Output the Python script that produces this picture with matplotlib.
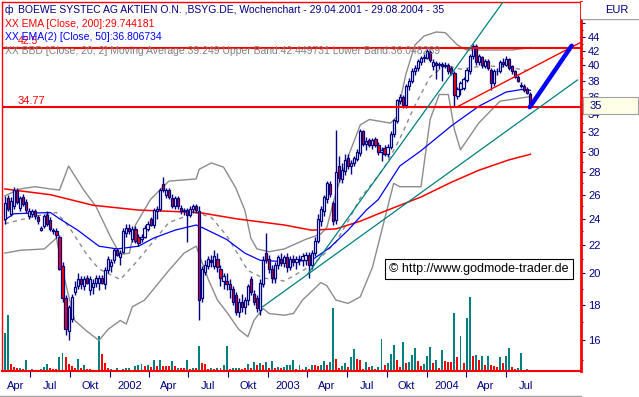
import numpy as np
import pandas as pd
import matplotlib
matplotlib.use("Agg")
import matplotlib.pyplot as plt
import matplotlib.dates as mdates
from matplotlib.patches import Rectangle
from matplotlib.lines import Line2D

plt.rcParams['font.family'] = ['Liberation Sans', 'DejaVu Sans']

# weekly candles, first week ending 04.05.2001
start = pd.Timestamp('2001-05-04')

opens = [24.0, 25.7, 24.4, 25.0, 26.3, 24.9, 25.8, 25.4, 24.2, 24.4,
         24.6, 24.1, 23.1, 23.4, 24.3, 23.9, 23.1, 23.0, 22.6, 20.5,
         18.4, 16.5, 17.2, 18.8, 19.2, 19.6, 19.2, 19.7, 18.9, 19.1,
         19.4, 19.4, 19.7, 19.3, 20.2, 20.5, 20.9, 21.6, 21.1, 21.5,
         22.9, 23.3, 22.4, 23.2, 22.6, 22.4, 22.6, 23.2, 24.0, 23.5,
         24.6, 24.8, 26.9, 26.0, 26.4, 25.7, 25.0, 25.7, 24.9, 24.6,
         24.7, 24.3, 24.8, 25.0, 24.6, 18.4, 20.1, 20.5, 20.9, 20.5,
         21.0, 20.3, 19.5, 19.5, 19.3, 19.0, 18.6, 17.6, 18.2, 17.9,
         18.3, 19.6, 18.7, 18.4, 17.7, 19.3, 21.4, 21.0, 20.3, 19.7,
         20.6, 21.0, 20.7, 21.1, 20.4, 21.0, 20.8, 21.0, 20.9, 20.9,
         21.3, 20.6, 21.4, 22.3, 23.8, 24.6, 25.6, 26.9, 25.3, 23.9,
         28.6, 27.4, 28.1, 29.4, 28.6, 28.9, 29.3, 29.9, 32.1, 30.8,
         31.2, 30.7, 31.3, 30.7, 30.0, 30.4, 29.8, 30.5, 31.8, 33.2,
         35.5, 36.0, 35.0, 37.3, 38.0, 39.3, 39.6, 40.5, 41.0, 41.0,
         41.8, 39.9, 40.3, 40.0, 40.2, 39.9, 40.1, 39.6, 39.0, 36.1,
         37.0, 37.1, 38.1, 39.2, 41.2, 42.6, 40.4, 41.1, 39.9, 40.6,
         39.4, 37.7, 39.2, 39.3, 40.4, 40.1, 40.8, 39.9, 39.2, 38.5,
         37.5, 37.4, 37.0, 36.4]
highs = [25.9, 26.0, 25.8, 26.7, 26.6, 25.9, 26.1, 25.6, 24.9, 24.8,
         24.8, 24.3, 23.4, 24.4, 24.6, 24.1, 23.3, 23.3, 22.7, 20.8,
         18.6, 18.0, 18.7, 19.5, 20.0, 19.8, 19.8, 19.9, 19.8, 19.6,
         19.9, 19.9, 19.9, 20.4, 21.2, 21.0, 21.8, 21.8, 21.6, 23.3,
         23.6, 23.6, 23.4, 23.4, 22.8, 22.8, 23.5, 23.8, 24.1, 24.9,
         25.0, 26.6, 27.6, 26.6, 26.6, 26.1, 25.9, 25.9, 25.1, 24.9,
         24.9, 25.0, 25.2, 25.2, 25.0, 20.5, 20.9, 21.2, 21.3, 21.6,
         21.4, 20.6, 20.0, 20.0, 19.6, 19.2, 18.8, 18.4, 18.7, 18.5,
         19.3, 19.8, 18.9, 18.6, 19.6, 21.2, 22.9, 21.3, 20.6, 20.8,
         21.3, 21.4, 21.3, 21.4, 21.2, 21.3, 21.2, 21.3, 21.4, 21.5,
         21.5, 21.6, 22.6, 24.4, 25.0, 26.0, 27.2, 27.2, 25.5, 32.2,
         29.6, 28.9, 29.8, 29.8, 29.2, 29.6, 30.3, 32.4, 32.3, 31.5,
         31.4, 31.4, 31.5, 31.0, 30.5, 30.7, 30.8, 32.1, 33.5, 35.8,
         36.4, 36.2, 37.6, 38.3, 39.6, 40.0, 40.9, 41.3, 41.5, 42.3,
         42.1, 40.8, 40.6, 40.4, 40.5, 40.4, 40.3, 39.9, 39.3, 37.2,
         38.0, 38.5, 39.6, 41.6, 43.0, 42.9, 41.6, 41.3, 40.9, 40.9,
         39.6, 39.5, 39.6, 40.7, 41.0, 41.3, 41.0, 40.1, 39.4, 38.7,
         37.9, 37.6, 37.2, 36.6]
lows = [23.6, 24.6, 24.2, 24.8, 25.2, 24.6, 25.0, 24.5, 24.0, 24.1,
        24.0, 23.6, 23.0, 23.3, 23.4, 23.0, 22.8, 22.5, 20.2, 18.2,
        16.3, 16.0, 17.0, 18.6, 19.0, 19.0, 18.9, 19.3, 18.6, 18.7,
        19.1, 18.9, 19.3, 19.0, 20.0, 20.1, 20.7, 21.2, 20.6, 21.4,
        22.6, 22.8, 22.2, 22.1, 21.9, 22.2, 22.5, 23.0, 23.4, 23.3,
        24.0, 24.6, 26.2, 25.7, 25.6, 24.9, 24.8, 24.8, 24.4, 24.3,
        22.2, 24.1, 24.5, 24.5, 17.1, 18.2, 19.9, 20.3, 20.4, 20.3,
        20.1, 19.2, 19.0, 18.9, 18.4, 18.0, 17.4, 17.3, 17.6, 17.5,
        18.0, 18.6, 18.0, 17.6, 17.4, 19.1, 20.7, 20.0, 19.4, 19.4,
        20.3, 20.5, 20.4, 20.1, 20.2, 20.5, 20.3, 20.6, 20.5, 20.6,
        19.7, 20.3, 21.2, 22.1, 23.4, 24.2, 25.3, 25.8, 23.5, 23.6,
        27.1, 27.0, 27.8, 28.3, 27.9, 28.6, 29.1, 29.6, 30.6, 30.2,
        30.5, 30.3, 30.5, 29.7, 29.1, 29.6, 29.5, 30.3, 31.5, 33.0,
        35.2, 34.7, 34.7, 36.9, 37.7, 38.8, 39.3, 40.1, 40.4, 40.8,
        40.5, 39.4, 38.2, 39.5, 38.0, 39.6, 38.9, 38.8, 34.8, 35.8,
        36.2, 36.8, 37.9, 38.9, 40.9, 40.1, 40.1, 39.7, 39.6, 39.4,
        36.9, 37.4, 38.8, 39.0, 39.8, 39.9, 39.4, 38.9, 38.3, 37.8,
        37.1, 36.6, 36.3, 34.8]
closes = [25.3, 24.8, 25.5, 26.4, 25.4, 25.7, 25.2, 24.7, 24.6, 24.6,
          24.2, 23.8, 23.3, 24.2, 23.6, 23.2, 23.0, 22.7, 20.3, 18.4,
          16.6, 17.9, 18.5, 19.1, 19.6, 19.3, 19.6, 19.4, 19.6, 19.4,
          19.7, 19.7, 19.4, 20.2, 21.0, 20.8, 21.6, 21.3, 21.4, 23.0,
          23.3, 23.0, 23.2, 22.3, 22.1, 22.6, 23.3, 23.6, 23.5, 24.7,
          24.8, 26.4, 26.4, 26.4, 25.8, 25.0, 25.7, 25.0, 24.6, 24.7,
          24.3, 24.8, 25.0, 24.7, 18.3, 20.3, 20.6, 21.0, 20.8, 21.2,
          20.4, 19.7, 19.8, 19.3, 19.0, 18.2, 17.6, 18.2, 17.9, 18.3,
          19.2, 18.8, 18.2, 17.8, 19.4, 20.9, 20.9, 20.3, 19.7, 20.6,
          21.1, 20.7, 21.1, 20.4, 21.0, 20.8, 21.0, 20.9, 21.2, 21.3,
          20.6, 21.4, 22.3, 24.0, 24.8, 25.8, 27.0, 26.1, 23.8, 28.0,
          27.5, 28.2, 29.2, 28.6, 28.9, 29.4, 30.0, 32.1, 30.8, 31.1,
          30.7, 31.2, 30.7, 30.0, 30.2, 29.8, 30.5, 31.8, 33.3, 35.6,
          36.0, 35.0, 37.3, 38.0, 39.3, 39.6, 40.6, 41.0, 41.1, 42.0,
          40.7, 40.4, 40.0, 40.2, 39.9, 40.1, 39.2, 39.0, 36.2, 37.0,
          37.7, 38.2, 39.4, 41.3, 42.6, 40.4, 41.3, 40.0, 40.6, 39.6,
          37.7, 39.2, 39.3, 40.4, 40.2, 40.8, 39.6, 39.2, 38.5, 38.0,
          37.3, 36.8, 36.5, 35.0]

# weekly volume (thousand shares) and bar colour: T = teal, R = red
volumes = [38, 56, 7, 4, 3, 3, 2, 11, 1, 2,
           1, 1, 2, 4, 7, 3, 2, 2, 14, 18,
           14, 7, 5, 3, 12, 3, 6, 2, 2, 1,
           1, 35, 17, 8, 3, 2, 1, 3, 1, 2,
           3, 3, 1, 5, 6, 7, 5, 6, 4, 11,
           5, 11, 5, 5, 5, 10, 5, 3, 3, 3,
           11, 2, 3, 3, 25, 8, 7, 2, 3, 2,
           3, 3, 6, 25, 2, 3, 3, 3, 2, 3,
           7, 3, 9, 6, 8, 6, 9, 3, 10, 3,
           4, 3, 4, 6, 6, 11, 2, 6, 2, 4,
           2, 6, 6, 5, 6, 10, 6, 9, 63, 12,
           3, 5, 8, 4, 14, 22, 12, 11, 2, 9,
           4, 5, 2, 4, 32, 6, 8, 17, 26, 11,
           4, 29, 8, 9, 16, 23, 10, 5, 7, 15,
           24, 8, 11, 3, 21, 10, 9, 9, 58, 14,
           35, 8, 53, 74, 15, 16, 11, 15, 6, 15,
           6, 5, 4, 14, 8, 15, 23, 4, 2, 3,
           18, 1, 2, 1]
vol_colors = ["TTRRRTRTRT", "RTTTTRRRTT", "RRRRTRTRRR", "TTRRRTRTRT",
              "TTRTTTRTRT", "RTRRRTRTRR", "TRTRTRRRTR", "TRTTRTTTRR",
              "TRTRTRTRTR", "TRTTTTRTRT", "RTRRTTRTTR", "RTTRTTRRRT",
              "RTRTTRTTTR", "RTRTTTRRTT", "TRTRTRRRTR", "TRTTRTRTRT",
              "RRRTRTTRRT", "TRTT"]

# indicator lines (week index, value)
ema200_idx = [0, 15, 29, 44, 64, 76, 92, 101, 109, 117, 123, 137, 147, 156, 166, 173]
ema200_val = [26.5, 26.0, 25.1, 24.7, 24.5, 24.0, 23.5, 23.1, 23.2, 23.8, 24.4, 25.8, 27.1, 28.2, 29.2, 29.744]
ema50_idx = [0, 3, 15, 18, 24, 31, 37, 44, 49, 56, 63, 65, 73, 79, 84, 92, 101, 107, 113, 119, 123, 130, 137, 147, 156, 165, 170, 173]
ema50_val = [23.9, 24.4, 24.5, 24.0, 23.1, 21.9, 21.7, 21.9, 22.5, 23.1, 23.5, 23.3, 22.4, 21.4, 20.9, 20.8, 20.9, 21.8, 23.1, 24.7, 25.6, 28.6, 30.1, 32.7, 34.9, 36.6, 36.9, 36.807]
bb_up_idx = [0, 5, 10, 15, 18, 21, 26, 30, 35, 38, 41, 43, 48, 54, 63, 64, 68, 72, 76, 79, 81, 83, 87, 92, 99, 104, 106, 109, 113, 117, 120, 127, 129, 132, 135, 138, 142, 145, 149, 152, 156, 167, 173]
bb_up_val = [25.9, 26.5, 26.7, 26.5, 26.4, 28.6, 26.4, 25.0, 22.5, 21.3, 21.4, 23.5, 25.6, 27.2, 27.4, 28.3, 28.9, 28.5, 26.6, 24.7, 22.5, 21.7, 21.5, 21.7, 22.4, 22.8, 23.3, 26.2, 29.5, 32.8, 33.4, 33.0, 33.7, 38.8, 42.8, 44.1, 44.7, 44.6, 42.8, 42.1, 42.1, 42.1, 42.45]
bb_lo_idx = [0, 5, 13, 17, 19, 23, 27, 31, 34, 38, 40, 42, 46, 54, 59, 63, 67, 70, 73, 77, 80, 82, 85, 87, 92, 95, 98, 104, 106, 109, 113, 117, 121, 123, 128, 130, 137, 140, 143, 146, 148, 150, 156, 163, 173]
bb_lo_val = [21.4, 21.6, 21.7, 22.5, 20.2, 17.1, 16.5, 16.0, 16.6, 17.1, 16.9, 17.9, 18.3, 20.2, 21.4, 21.9, 19.6, 18.3, 17.6, 16.6, 16.2, 17.1, 17.8, 17.5, 17.4, 17.5, 18.3, 19.4, 19.2, 18.3, 18.1, 18.5, 20.4, 22.1, 27.0, 26.7, 26.7, 33.4, 36.3, 36.3, 32.3, 30.2, 33.0, 35.5, 36.05]
bb_mid_idx = [0, 10, 17, 21, 27, 31, 38, 43, 48, 54, 63, 68, 73, 80, 85, 92, 99, 104, 109, 113, 117, 121, 125, 130, 135, 140, 145, 150, 155, 160, 165, 173]
bb_mid_val = [23.6, 24.2, 24.5, 23.4, 21.3, 20.3, 19.6, 20.7, 22.0, 23.7, 24.5, 24.1, 22.7, 20.2, 19.7, 19.5, 20.3, 21.1, 22.2, 23.8, 25.7, 27.0, 28.5, 31.3, 35.0, 38.5, 40.0, 39.5, 39.8, 39.9, 39.8, 39.25]

# drawn trend lines (week index, price)
teal_steep = ([99.8, 164.0], [19.98, 49.4])
teal_flat = ([84.9, 188.5], [17.9, 38.1])
red_diag = ([148.7, 189.2], [34.8, 43.1])
blue_arrow = ([172.8, 186.6], [34.8, 42.7])
level_hi = 42.4
level_lo = 34.77

navy = '#000080'
teal = '#008080'
W, H = 639, 397

def wk(i):
    return mdates.date2num(start + pd.to_timedelta(np.asarray(i) * 7, unit='D'))

fig = plt.figure(figsize=(6.39, 3.97), dpi=100)
fig.patch.set_facecolor('white')
L, R, T, B = 1.5, 581, 2, 371
ax = fig.add_axes([L / W, 1 - B / H, (R - L) / W, (B - T) / H])
axv = fig.add_axes([L / W, 1 - B / H, (R - L) / W, (B - T) / H], sharex=ax)
axv.set_zorder(0)
ax.set_zorder(1)
ax.patch.set_visible(False)
axv.axis('off')

n = len(closes)
x = wk(np.arange(n))

# volume
flags = ''.join(vol_colors)
vcol = [teal if ch == 'T' else '#ff0000' for ch in flags[:n]]
axv.bar(x, np.array(volumes[:n]) * 1000, width=4.5, color=vcol, linewidth=0)
axv.set_ylim(0, 369000)

# indicators
ax.plot(wk(bb_up_idx), bb_up_val, color='#8c8c8c', lw=1.0, zorder=2)
ax.plot(wk(bb_lo_idx), bb_lo_val, color='#8c8c8c', lw=1.0, zorder=2)
ax.plot(wk(bb_mid_idx), bb_mid_val, color='#8c8c8c', lw=1.0, ls=(0, (3, 3)), zorder=2)
ax.plot(wk(ema200_idx), ema200_val, color='#ff0000', lw=1.1, zorder=2)
ax.plot(wk(ema50_idx), ema50_val, color='#0000ff', lw=0.9, zorder=2)

# candles
o = np.array(opens); h = np.array(highs); l = np.array(lows); c = np.array(closes)
ax.vlines(x, l, h, color=navy, lw=1.0, zorder=3)
body_lo = np.minimum(o, c)
body_h = np.maximum(np.abs(c - o), 0.06)
fill = np.where(c < o, '#ff0000', '#ffffff')
ax.bar(x, body_h, bottom=body_lo, width=5.0, color=fill, edgecolor=navy, linewidth=0.9, zorder=4)

# levels and trend lines
ax.axhline(level_hi, color='#ff0000', lw=1.5, zorder=5)
ax.axhline(level_lo, color='#ff0000', lw=1.5, zorder=5)
ax.plot(wk(teal_steep[0]), teal_steep[1], color=teal, lw=0.9, zorder=5)
ax.plot(wk(teal_flat[0]), teal_flat[1], color=teal, lw=0.9, zorder=5)
ax.plot(wk(red_diag[0]), red_diag[1], color='#ff0000', lw=1.0, zorder=5)
ax.plot(wk(blue_arrow[0]), blue_arrow[1], color='#0000ff', lw=3.2, zorder=6, solid_capstyle='round')

# axes
ax.set_yscale('log')
ax.set_ylim(14.45, 49.4)
ax.set_xlim(mdates.date2num(pd.Timestamp('2001-04-26 10:00')), mdates.date2num(pd.Timestamp('2004-12-21 16:00')))
majors = list(range(16, 47, 2))
ax.set_yticks(majors)
ax.set_yticklabels([str(v) if v <= 44 else '' for v in majors])
ax.set_yticks(list(range(15, 48, 2)), minor=True)
ax.yaxis.set_minor_formatter(plt.NullFormatter())
ax.yaxis.tick_right()
ax.tick_params(axis='y', which='major', colors=navy, labelsize=8, length=3, width=0.8, pad=2)
ax.tick_params(axis='y', which='minor', colors=navy, length=1.5, width=0.8)

q_starts = pd.date_range('2001-07-01', '2004-07-01', freq='QS')
ax.set_xticks(mdates.date2num(q_starts))
ax.xaxis.set_major_formatter(plt.NullFormatter())
month_names = {4: 'Apr', 7: 'Jul', 10: 'Okt'}
edges = [pd.Timestamp('2001-04-26')] + list(q_starts) + [pd.Timestamp('2004-10-01')]
lab_pos, lab_txt = [], []
for a, b in zip(edges[:-1], edges[1:]):
    lab_pos.append(mdates.date2num(a + (b - a) / 2))
    lab_txt.append(str(a.year) if a.month == 1 else month_names.get(a.month, 'Apr'))
ax.set_xticks(lab_pos, minor=True)
ax.set_xticklabels(lab_txt, minor=True)
ax.tick_params(axis='x', which='major', colors=navy, length=4, width=0.8)
ax.tick_params(axis='x', which='minor', length=0, labelsize=8, labelcolor=navy, pad=7)
for s in ax.spines.values():
    s.set_color('#ff0000')
    s.set_linewidth(1.0)
ax.spines['right'].set_linewidth(2.0)
ax.spines['bottom'].set_linewidth(1.5)

# "35" last price box
fig.patches.append(Rectangle((583 / W, 1 - 114 / H), 55 / W, 17 / H, transform=fig.transFigure,
                             facecolor='#ffffe8', edgecolor='#a0a0a0', lw=0.8, zorder=10))
fig.text(590 / W, 1 - 106 / H, '35', color=navy, fontsize=8, va='center', zorder=11)

# header
fig.patches.append(Rectangle((581 / W, 1 - 19 / H), 58 / W, 17 / H, transform=fig.transFigure,
                             facecolor='white', edgecolor='none', zorder=10))
fig.lines.append(Line2D([582 / W, 1], [1 - 19 / H, 1 - 19 / H], transform=fig.transFigure, color='#a0a0a0', lw=1))
fig.text(629 / W, 1 - 10 / H, 'EUR', color=navy, fontsize=8, ha='right', va='center', zorder=11)
fig.lines.append(Line2D([0, 581 / W], [1 - 396 / H, 1 - 396 / H], transform=fig.transFigure, color='#a0a0a0', lw=1))

fs = 7.5
fig.text(5 / W, 1 - 10 / H, 'ф', color=navy, fontsize=fs, va='center')
fig.text(18 / W, 1 - 10 / H, 'BOEWE SYSTEC AG AKTIEN O.N. ,BSYG.DE, Wochenchart - 29.04.2001 - 29.08.2004 - 35',
         color=navy, fontsize=fs, va='center')
fig.text(5 / W, 1 - 24 / H, 'XX EMA [Close, 200]:29.744181', color='#ff0000', fontsize=fs, va='center')
fig.text(18 / W, 1 - 41 / H, '42.5', color='#ff0000', fontsize=fs, va='center')
fig.text(5 / W, 1 - 37 / H, 'XX EMA(2) [Close, 50]:36.806734', color='#0000ff', fontsize=fs, va='center')
fig.text(5 / W, 1 - 51 / H,
         'XX BBD [Close, 20, 2] Moving Average:39.249 Upper Band:42.449731 Lower Band:36.048269',
         color='#808080', fontsize=fs, va='center')
fig.text(18 / W, 1 - 101 / H, '34.77', color='#ff0000', fontsize=8, va='center')

fig.text(389 / W, 1 - 269 / H, '\u00a9 http://www.godmode-trader.de', color='black', fontsize=9, va='center',
         bbox=dict(boxstyle='square,pad=0.35', facecolor='white', edgecolor='black', lw=0.8), zorder=12)

fig.savefig('out.png', dpi=100)
